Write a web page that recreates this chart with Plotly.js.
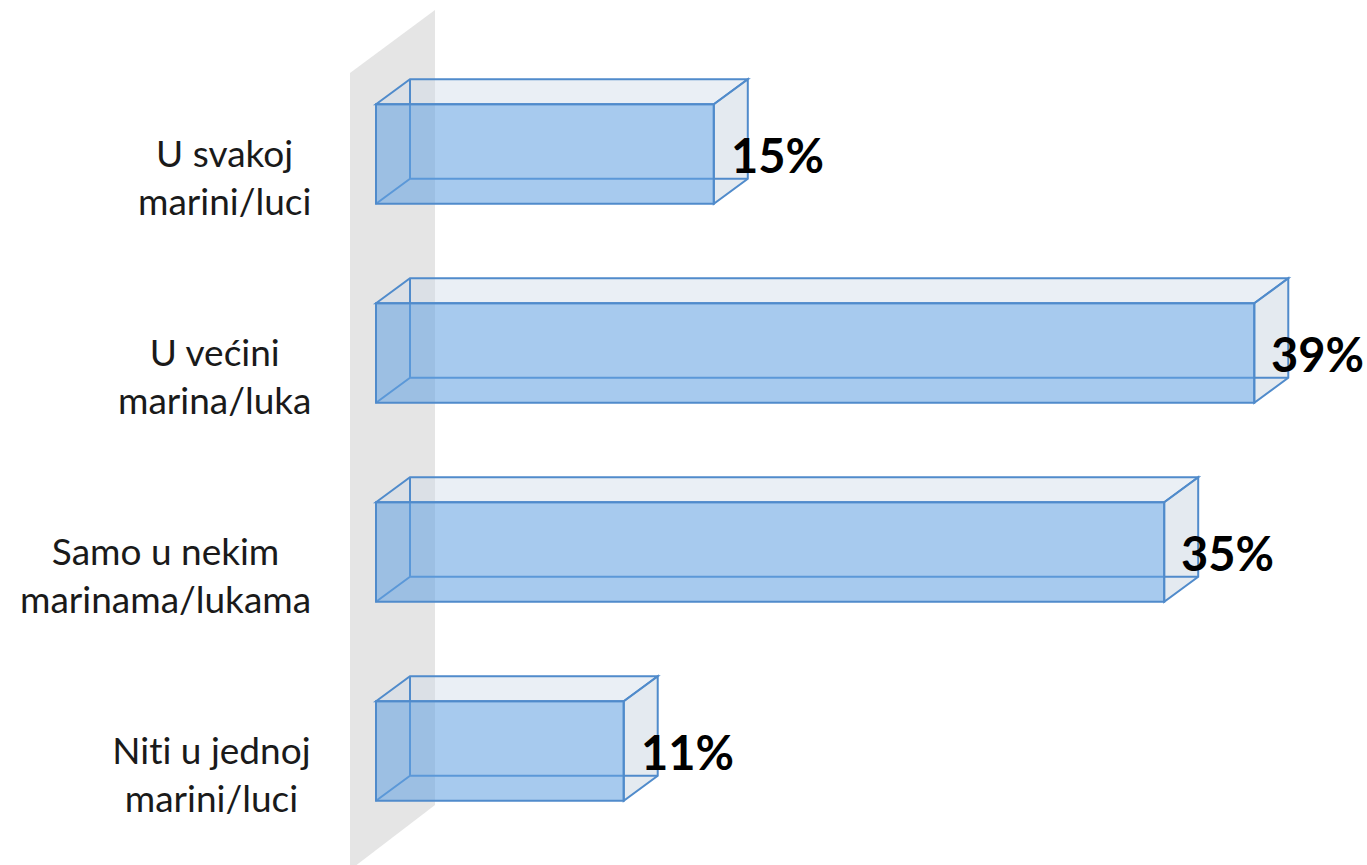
<!DOCTYPE html>
<html>
<head>
<meta charset="utf-8">
<script src="https://cdn.plot.ly/plotly-3.0.1.min.js"></script>
<style>html,body{margin:0;padding:0;background:#fff;}#chart{width:1367px;height:865px;}
#chart text{font-variant-ligatures:none;font-feature-settings:"liga" 0;}</style>
</head>
<body>
<div id="chart"></div>
<script>
// ---- data ----
const categories = ["U svakoj<br>marini/luci", "U većini<br>marina/luka", "Samo u nekim<br>marinama/lukama", "Niti u jednoj<br>marini/luci"];
const values = [15, 39, 35, 11];
const valueLabels = ["15%", "39%", "35%", "11%"];

// ---- geometry helpers (axis units) ----
const W = 1367, H = 865;
const pxPerX = 22.52, x0px = 376;        // x=0 at 376px
const pxPerY = 199, y0px = 154;          // category 0 centre at 154px
const xRange = [-x0px / pxPerX, (W - x0px) / pxPerX];
const yRange = [(H - y0px) / pxPerY, -y0px / pxPerY];
const dX = 34 / pxPerX;                  // depth offset in x units
const dY = 25 / pxPerY;                  // depth offset in y units (upwards)
const half = 0.25;                       // half bar thickness

const edge = "rgb(80,139,203)";
const idx = values.map((_, i) => i);

const shapes = [];
// back wall (decoration, paper coords)
const px = (x) => x / W, py = (y) => 1 - y / H;
shapes.push({
  type: "path", xref: "paper", yref: "paper", layer: "below",
  path: `M${px(350)},${py(73)} L${px(435)},${py(10)} L${px(435)},${py(805)} L${px(350)},${py(870)} Z`,
  fillcolor: "rgb(229,229,229)", line: {width: 0}
});

values.forEach((v, i) => {
  const t = i - half, b = i + half;
  // top face
  shapes.push({type: "path", xref: "x", yref: "y", layer: "below",
    path: `M0,${t} L${dX},${t - dY} L${v + dX},${t - dY} L${v},${t} Z`,
    fillcolor: "rgba(205,218,232,0.42)", line: {color: edge, width: 2}});
  // side face
  shapes.push({type: "path", xref: "x", yref: "y", layer: "below",
    path: `M${v},${t} L${v + dX},${t - dY} L${v + dX},${b - dY} L${v},${b} Z`,
    fillcolor: "rgba(195,208,222,0.45)", line: {color: edge, width: 2}});
  // hidden back edges
  shapes.push({type: "path", xref: "x", yref: "y", layer: "below",
    path: `M${dX},${t - dY} L${dX},${b - dY} L${v + dX},${b - dY} M0,${b} L${dX},${b - dY}`,
    line: {color: edge, width: 2}});
});

const annotations = [];
categories.forEach((c, i) => {
  annotations.push({
    xref: "paper", yref: "y", x: 313 / W, y: i, xanchor: "right", yanchor: "middle",
    align: "center", text: c, showarrow: false, yshift: -22,
    font: {family: "Lato, 'Noto Sans', sans-serif", size: 37, color: "#1a1a1a"}
  });
});
values.forEach((v, i) => {
  annotations.push({
    xref: "x", yref: "y", x: v, y: i, xanchor: "left", yanchor: "middle",
    text: "<b>" + valueLabels[i] + "</b>", showarrow: false, xshift: 15, yshift: -1,
    font: {family: "Lato, 'Noto Sans', sans-serif", size: 47, color: "#000"}
  });
});

const trace = {
  type: "bar", orientation: "h", x: values, y: idx, width: 2 * half,
  marker: {color: "rgba(100,162,225,0.57)", line: {color: edge, width: 2}},
  hoverinfo: "skip"
};

const layout = {
  width: W, height: H, margin: {l: 0, r: 0, t: 0, b: 0},
  paper_bgcolor: "#fff", plot_bgcolor: "rgba(0,0,0,0)",
  showlegend: false,
  xaxis: {range: xRange, visible: false, fixedrange: true},
  yaxis: {range: yRange, visible: false, fixedrange: true},
  shapes: shapes, annotations: annotations
};

Plotly.newPlot("chart", [trace], layout, {staticPlot: true, displayModeBar: false});
</script>
</body>
</html>
